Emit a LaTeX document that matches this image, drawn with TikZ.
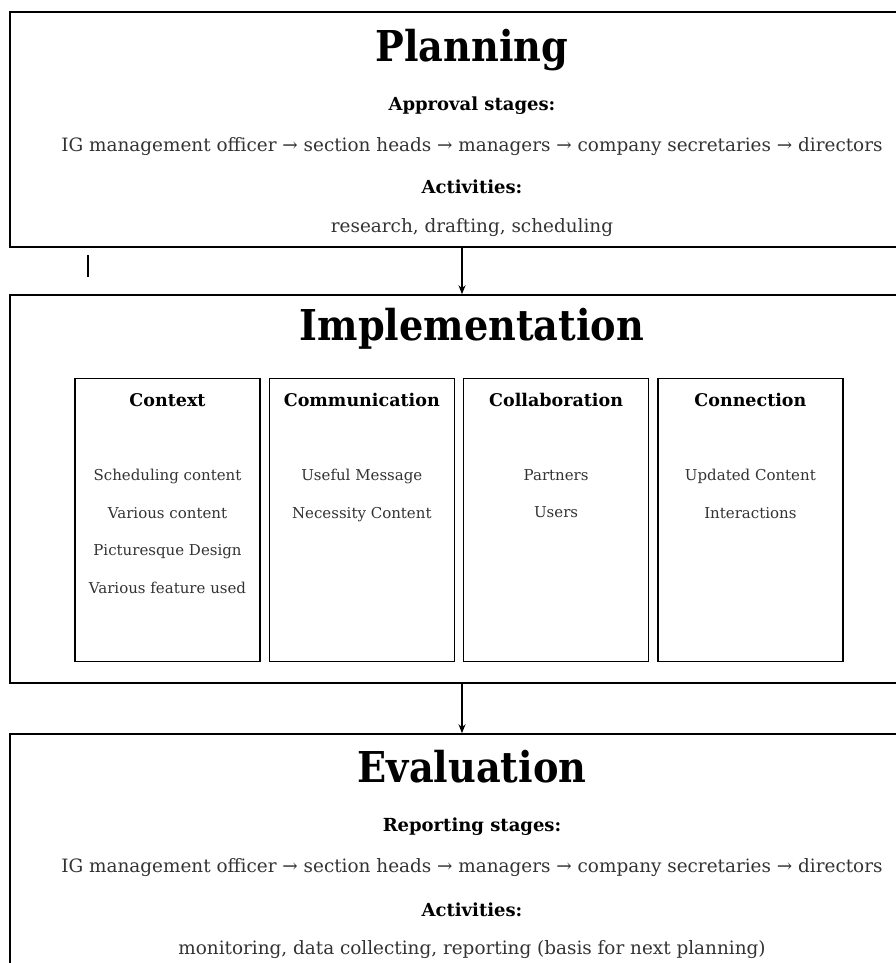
\documentclass[tikz,border=0pt]{standalone}
\usepackage{fontspec}
\setmainfont{DejaVu Serif}
\newfontfamily\titlefont{DejaVu Serif Condensed}
\usepackage{xcolor}
\usepackage{tikz}
\usetikzlibrary{arrows.meta}
\usetikzlibrary{positioning}

\begin{document}
\begin{tikzpicture}[x=1pt,y=-1pt,-{Stealth[length=9pt,width=7pt]},node distance=7.7pt,
  main node/.style={rectangle,draw,line width=1.5pt,minimum width=904pt,inner sep=0pt},
  sub node/.style={rectangle,draw,line width=1.6pt,minimum width=185pt,minimum height=283pt,inner sep=0pt},
  big title/.style={font=\titlefont\bfseries\fontsize{42.5}{42.5}\selectfont},
  sub title/.style={font=\bfseries\fontsize{17.5}{17.5}\selectfont},
  head/.style={font=\bfseries\fontsize{18}{18}\selectfont},
  plain/.style={font=\fontsize{18.4}{18.4}\selectfont,text=black!80},
  items/.style={font=\fontsize{15}{37.5}\selectfont,text=black!80,align=center,anchor=north}]

  \useasboundingbox (0,0) rectangle (895,963);

  % three stages
  \node[main node,minimum height=235pt] (1) at (462,129.5) {};
  \node[main node,minimum height=388pt] (2) at (462,489) {};
  \node[main node,minimum height=256pt] (3) at (462,862) {};

  \node[big title] (t1) at (472,50) {Planning};
  \node[head] (h1) at (472,106) {Approval stages:};
  \node[plain] (l1) at (472,147) {IG management officer → section heads → managers → company secretaries → directors};
  \node[head] (a1) at (472,187) {Activities:};
  \node[plain] (r1) at (472,228) {research, drafting, scheduling};

  \node[big title] (t2) at (472,329) {Implementation};

  \node[big title] (t3) at (472,767) {Evaluation};
  \node[head] (h3) at (472,827) {Reporting stages:};
  \node[plain] (l3) at (472,868) {IG management officer → section heads → managers → company secretaries → directors};
  \node[head] (a3) at (472,910) {Activities:};
  \node[plain] (r3) at (472,950) {monitoring, data collecting, reporting (basis for next planning)};

  % the four C's
  \node[sub node] (c1) at (167.5,520) {};
  \node[sub node] (c2) [right=of c1] {};
  \node[sub node] (c3) [right=of c2] {};
  \node[sub node] (c4) [right=of c3] {};

  \node[sub title] at ([yshift=-22pt]c1.north) {Context};
  \node[sub title] at ([yshift=-22pt]c2.north) {Communication};
  \node[sub title] at ([yshift=-22pt]c3.north) {Collaboration};
  \node[sub title] at ([yshift=-22pt]c4.north) {Connection};

  \node[items] at ([yshift=-88pt]c1.north) {Scheduling content\\Various content\\Picturesque Design\\Various feature used};
  \node[items] at ([yshift=-88pt]c2.north) {Useful Message\\Necessity Content};
  \node[items] at ([yshift=-88pt]c3.north) {Partners\\Users};
  \node[items] at ([yshift=-88pt]c4.north) {Updated Content\\Interactions};

  \draw[line width=1.5pt] (1) -- (2);
  \draw[line width=1.5pt] (2) -- (3);

  \coordinate (m1) at (88,255);
  \coordinate (m2) at (88,277);
  \draw[-,line width=1.2pt] (m1) -- (m2);
\end{tikzpicture}
\end{document}
